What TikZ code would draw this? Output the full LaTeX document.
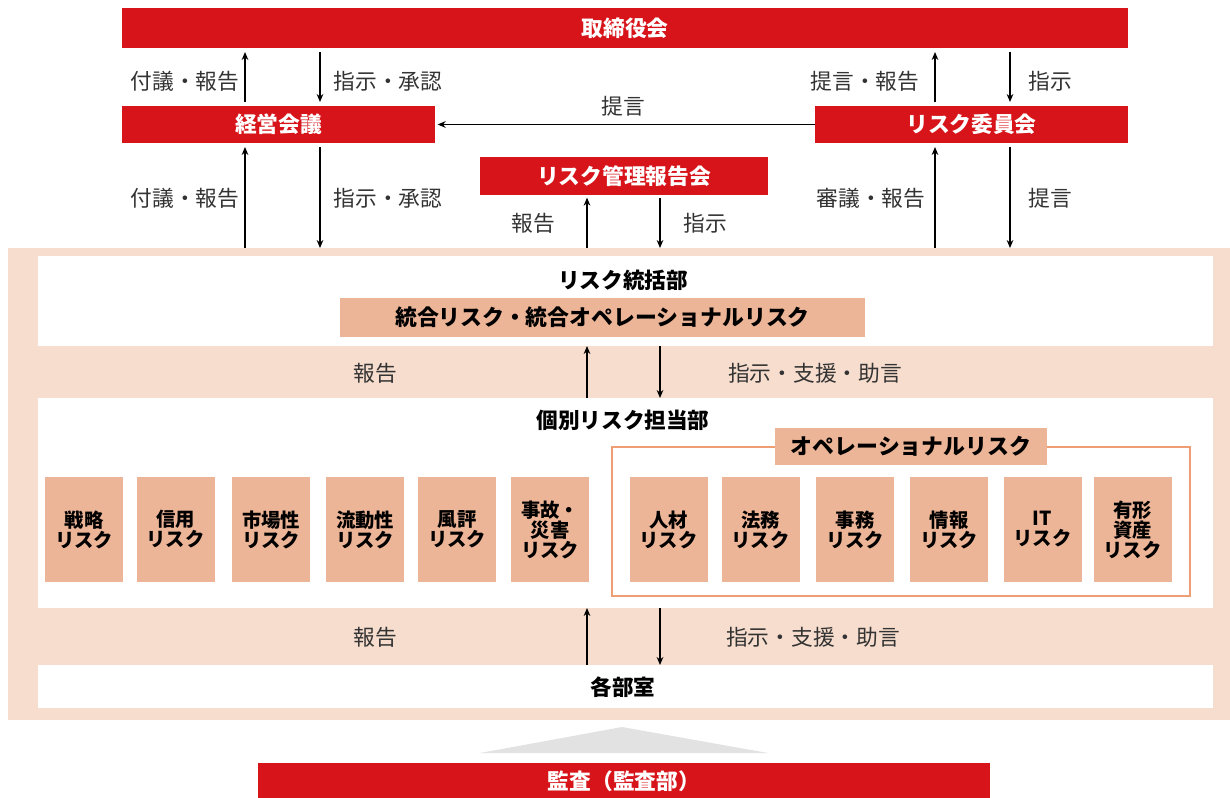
\documentclass[tikz,border=0pt]{standalone}
\usepackage{fontspec}
\newfontfamily\jp{Noto Sans CJK JP}
\usetikzlibrary{arrows.meta}
\definecolor{jred}{HTML}{D7141A}
\definecolor{peach}{HTML}{F6DDCE}
\definecolor{salmon}{HTML}{EDB597}
\definecolor{frameor}{HTML}{EE9D74}
\definecolor{trigray}{HTML}{E2E2E2}
\definecolor{lbl}{HTML}{333333}
\begin{document}
\begin{tikzpicture}[x=0.75pt,y=-0.75pt,
  every node/.style={font=\jp, inner sep=0, outer sep=0},
  sz/.style 2 args={minimum width=#1*0.75pt, minimum height=#2*0.75pt},
  redbox/.style={fill=jred, text=white, font=\jp\bfseries\fontsize{16.3}{19}\selectfont},
  band/.style={fill=white},
  salbox/.style={fill=salmon, text=black, font=\jp\bfseries\fontsize{16.4}{19}\selectfont},
  riskbox/.style={fill=salmon, text=black, align=center, sz={78}{105}, font=\jp\bfseries\fontsize{14.5}{15}\selectfont},
  head/.style={text=black, font=\jp\bfseries\fontsize{16.2}{19}\selectfont},
  lab/.style={text=lbl, font=\jp\fontsize{16.3}{19}\selectfont},
  arr/.style={draw=black, line width=0.9pt, -{Stealth[length=6pt,width=5pt]}}
]
\useasboundingbox (0,0) rectangle (1230,798);

% outer peach area
\node[fill=peach, sz={1222}{472}] (outer) at (619,484) {};
\node[band, sz={1175}{90}] (band1) at (625.5,301) {};
\node[band, sz={1175}{210}] (band2) at (625.5,503) {};
\node[band, sz={1175}{43}] (band3) at (625.5,686.5) {};

% red boxes
\node[redbox, sz={1006}{40}] (board) at (625,28) {取締役会};
\node[redbox, sz={313}{37}] (keiei) at (278.5,124.5) {経営会議};
\node[redbox, sz={313}{37}] (iinkai) at (971.5,124.5) {リスク委員会};
\node[redbox, sz={288}{38}] (houkoku) at (624,176) {リスク管理報告会};
\node[redbox, sz={732}{36}] (audit) at (624,781) {監査（監査部）};

% x positions for vertical connectors
\coordinate (xa) at (245,0);
\coordinate (xb) at (320,0);
\coordinate (xc) at (935,0);
\coordinate (xd) at (1010,0);
\coordinate (xe) at (587,0);
\coordinate (xf) at (660,0);

% top arrows
\draw[arr, shorten <=3pt, shorten >=3pt] (keiei.north -| xa) -- (board.south -| xa);
\draw[arr, shorten <=3pt, shorten >=3pt] (board.south -| xb) -- (keiei.north -| xb);
\draw[arr, shorten <=3pt, shorten >=3pt] (iinkai.north -| xc) -- (board.south -| xc);
\draw[arr, shorten <=3pt, shorten >=3pt] (board.south -| xd) -- (iinkai.north -| xd);
\draw[arr, shorten >=2pt] (iinkai.west) -- (keiei.east);

\draw[arr, shorten >=3pt] (outer.north -| xa) -- (keiei.south -| xa);
\draw[arr, shorten <=3pt] (keiei.south -| xb) -- (outer.north -| xb);
\draw[arr, shorten >=3pt] (outer.north -| xc) -- (iinkai.south -| xc);
\draw[arr, shorten <=3pt] (iinkai.south -| xd) -- (outer.north -| xd);
\draw[arr, shorten >=2pt] (outer.north -| xe) -- (houkoku.south -| xe);
\draw[arr, shorten <=2pt] (houkoku.south -| xf) -- (outer.north -| xf);

% labels top
\node[lab] (l1) at (185,81) {付議・報告};
\node[lab] (l2) at (388,81) {指示・承認};
\node[lab] (l3) at (865,81) {提言・報告};
\node[lab] (l4) at (1050,81) {指示};
\node[lab] (l5) at (623,106) {提言};
\node[lab] (l6) at (185,198) {付議・報告};
\node[lab] (l7) at (388,198) {指示・承認};
\node[lab] (l8) at (871,198) {審議・報告};
\node[lab] (l9) at (1050,198) {提言};
\node[lab] (l10) at (533,223) {報告};
\node[lab] (l11) at (705,223) {指示};

% band 1
\node[head] (tokatsu) at (623,280) {リスク統括部};
\node[salbox, sz={525}{39}] (togo) at (602.5,317.5) {統合リスク・統合オペレーショナルリスク};

% between band1 and band2
\draw[arr] (band2.north -| xe) -- (band1.south -| xe);
\draw[arr] (band1.south -| xf) -- (band2.north -| xf);
\node[lab] (l12) at (375,373) {報告};
\node[lab] (l13) at (815,373) {指示・支援・助言};

% band 2
\node[head] (kobetsu) at (623,420) {個別リスク担当部};
\node[riskbox] (r1) at (84,529.5) {戦略\\リスク};
\node[riskbox] (r2) at (175.5,529.5) {信用\\リスク};
\node[riskbox] (r3) at (271,529.5) {市場性\\リスク};
\node[riskbox] (r4) at (365,529.5) {流動性\\リスク};
\node[riskbox] (r5) at (457,529.5) {風評\\リスク};
\node[riskbox] (r6) at (550,529.5) {事故・\\災害\\リスク};

\node[draw=frameor, line width=1.6pt, sz={578}{149}] (opframe) at (901,521.5) {};
\node[salbox, sz={272}{37}] (oplabel) at (911,446.5) {オペレーショナルリスク};
\node[riskbox] (o1) at (668.5,529.5) {人材\\リスク};
\node[riskbox] (o2) at (760.5,529.5) {法務\\リスク};
\node[riskbox] (o3) at (855,529.5) {事務\\リスク};
\node[riskbox] (o4) at (949,529.5) {情報\\リスク};
\node[riskbox] (o5) at (1042.5,529.5) {IT\\リスク};
\node[riskbox] (o6) at (1132.5,529.5) {有形\\資産\\リスク};

% between band2 and band3
\draw[arr] (band3.north -| xe) -- (band2.south -| xe);
\draw[arr] (band2.south -| xf) -- (band3.north -| xf);
\node[lab] (l14) at (375,637) {報告};
\node[lab] (l15) at (813,637) {指示・支援・助言};

% band 3
\node[head] (kakubu) at (623,687) {各部室};

% gray triangle
\fill[trigray] (480,753) -- (622,727) -- (768,753) -- cycle;
\end{tikzpicture}
\end{document}
